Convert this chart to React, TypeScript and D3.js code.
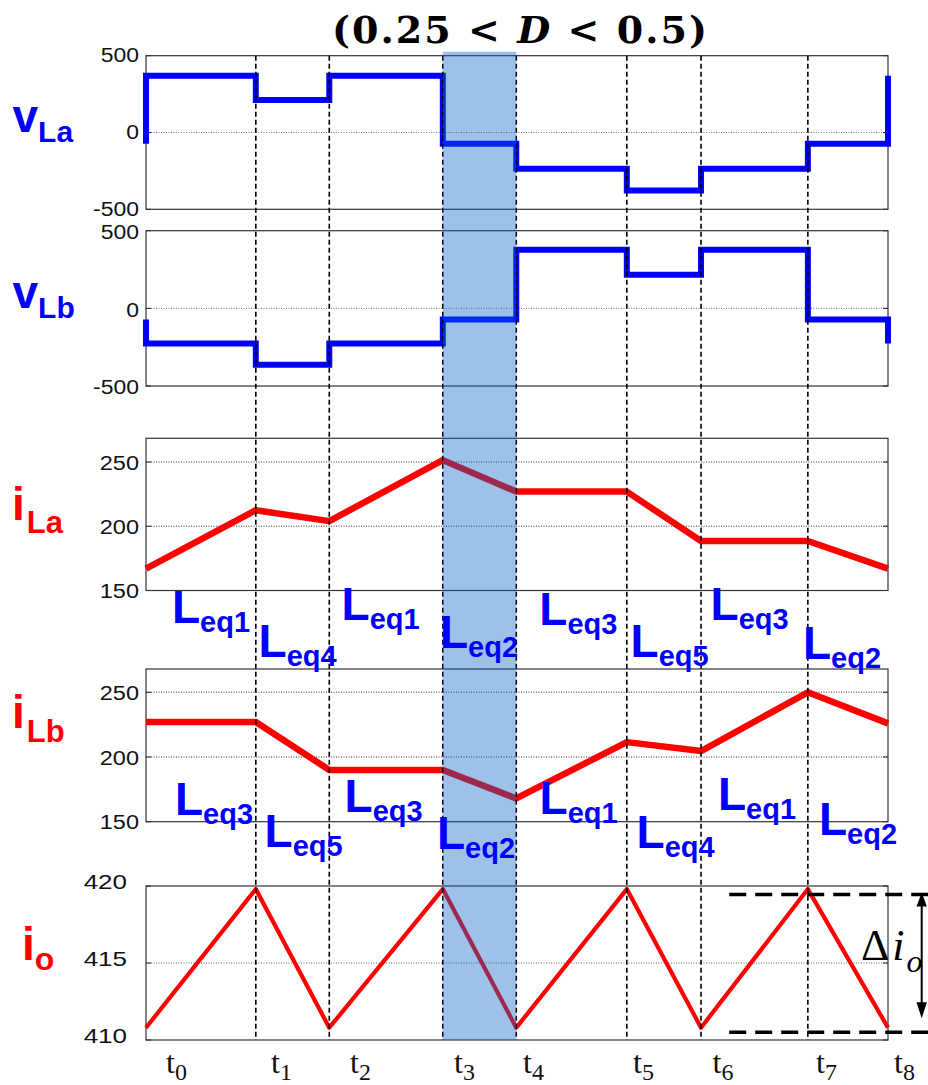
import React from "react";
import * as d3 from "d3";

// Switching instants within one period (normalised to T)
const TIME_KNOTS = [0, 0.148, 0.247, 0.4, 0.499, 0.648, 0.748, 0.892, 1.0];
const TIME_SUBS = ["0", "1", "2", "3", "4", "5", "6", "7", "8"];

// Inductor voltages: one level per interval t_k .. t_{k+1}
const VLA_LEVELS = [370, 212, 370, -74, -236, -377, -236, -74];
const VLB_LEVELS = [-227, -363, -227, -71, 378, 217, 378, -71];

// Currents sampled at the switching instants
const ILA_VALUES = [167, 212.5, 204, 251.5, 227, 227, 188.5, 188.5, 167];
const ILB_VALUES = [227, 227, 190, 190, 168, 211.5, 204.6, 250, 226];
const IO_VALUES = [410.8, 419.8, 410.8, 419.8, 410.8, 419.8, 410.8, 419.8, 410.8];

// Equivalent inductance active in each interval
const LEQ_A = ["1", "4", "1", "2", "3", "5", "3", "2"];
const LEQ_B = ["3", "5", "3", "2", "1", "4", "1", "2"];

const VOLT_TICKS = [500, 0, -500];
const CURR_TICKS = [250, 200, 150];
const IO_TICKS = [420, 415, 410];

// Ripple band drawn beside the output current
const RIPPLE_TOP = 419.45;
const RIPPLE_BOTTOM = 410.5;
const RIPPLE_START = 0.786;

const W = 928;
const H = 1085;
const BLUE = "#0000ff";
const RED = "#ff0000";
const SANS = "'Liberation Sans', Arial, sans-serif";
const SERIF = "'Liberation Serif', 'Times New Roman', serif";

const x = d3.scaleLinear().domain([0, 1]).range([146, 888]);

type Panel = {
  top: number;
  bottom: number;
  domain: [number, number];
  ticks: number[];
  grid: number[];
  labelRight: number;
  fs: number;
  sx: number;
  labelDy: number;
  gridColor: string;
  gridWidth: number;
};

const panels: Panel[] = [
  { top: 55.7, bottom: 209.3, domain: [-500, 500], ticks: VOLT_TICKS, grid: [0], labelRight: 139, fs: 20.5, sx: 1.12, labelDy: -1, gridColor: "#666", gridWidth: 0.9 },
  { top: 230.7, bottom: 386, domain: [-500, 500], ticks: VOLT_TICKS, grid: [0], labelRight: 139, fs: 20.5, sx: 1.12, labelDy: 1, gridColor: "#666", gridWidth: 0.9 },
  { top: 438.3, bottom: 590.5, domain: [150, 268.5], ticks: CURR_TICKS, grid: [200, 250], labelRight: 139, fs: 21, sx: 1.12, labelDy: 0, gridColor: "#777", gridWidth: 1.4 },
  { top: 669, bottom: 821.7, domain: [150, 268], ticks: CURR_TICKS, grid: [200, 250], labelRight: 139, fs: 21, sx: 1.12, labelDy: 0, gridColor: "#777", gridWidth: 1.4 },
  { top: 886, bottom: 1040, domain: [410, 420], ticks: IO_TICKS, grid: [415], labelRight: 127, fs: 20, sx: 1.3, labelDy: -4, gridColor: "#555", gridWidth: 0.9 },
];

const yScales = panels.map((p) => d3.scaleLinear().domain(p.domain).range([p.bottom, p.top]));

function stepPath(levels: number[], y: d3.ScaleLinear<number, number>) {
  const pts: [number, number][] = [[TIME_KNOTS[0], levels[levels.length - 1]]];
  levels.forEach((v, i) => pts.push([TIME_KNOTS[i], v]));
  pts.push([TIME_KNOTS[TIME_KNOTS.length - 1], levels[0]]);
  return d3
    .line<[number, number]>()
    .x((d) => x(d[0]))
    .y((d) => y(d[1]))
    .curve(d3.curveStepAfter)(pts) as string;
}

function rampPath(values: number[], y: d3.ScaleLinear<number, number>) {
  return d3
    .line<number>()
    .x((_, i) => x(TIME_KNOTS[i]))
    .y((d) => y(d))(values) as string;
}

// Text positions of the L_eq annotations (left of "L", baseline of "L")
const LEQ_A_POS: [number, number][] = [
  [172, 623], [258.6, 657], [341.6, 620], [440, 648], [539.3, 624.5], [630.6, 657], [710.6, 620], [803, 658.5],
];
const LEQ_B_POS: [number, number][] = [
  [175, 815], [264.6, 847], [344.6, 811.7], [437, 849], [539.6, 814], [636.6, 848], [718, 810], [819, 835],
];
const T_LABEL_X = [166, 271, 350, 454, 523, 633, 712.5, 816, 894];

function LeqLabel({ pos, sub }: { pos: [number, number]; sub: string }) {
  return (
    <text x={pos[0]} y={pos[1]} fill={BLUE} fontFamily={SANS} fontWeight="bold" fontSize={46}>
      L
      <tspan fontSize={29} dy={9}>
        {"eq" + sub}
      </tspan>
    </text>
  );
}

function SideLabel({ x0, y0, main, sub, color, mainSize, subSize, subDy, subDx = 0 }: any) {
  return (
    <text x={x0} y={y0} fill={color} fontFamily={SANS} fontWeight="bold" fontSize={mainSize}>
      {main}
      <tspan fontSize={subSize} dy={subDy} dx={subDx}>
        {sub}
      </tspan>
    </text>
  );
}

export default function App() {
  const [pA, , , , pE] = panels;
  const [yA, yB, yC, yD, yE] = yScales;
  const shadeX0 = x(TIME_KNOTS[3]);
  const shadeX1 = x(TIME_KNOTS[4]);

  return (
    <svg
      width={W}
      height={H}
      viewBox={`0 0 ${W} ${H}`}
      style={{ position: "absolute", left: 0, top: 0, background: "#fff" }}
    >
      <rect x={0} y={0} width={W} height={H} fill="#fff" />

      {/* title */}
      <text
        x={332}
        y={43}
        fontFamily="'DejaVu Serif', serif"
        fontWeight="bold"
        fontSize={38}
        textLength={375}
        lengthAdjust="spacing"
        fill="#000"
      >
        (0.25 {"<"} <tspan fontStyle="italic">D</tspan> {"<"} 0.5)
      </text>

      {/* panel frames, grids, ticks and tick labels */}
      {panels.map((p, pi) => {
        const y = yScales[pi];
        const xl = x(0);
        const xr = x(1);
        return (
          <g key={"frame" + pi}>
            {p.grid.map((g) => (
              <line
                key={"g" + g}
                x1={xl}
                x2={xr}
                y1={y(g)}
                y2={y(g)}
                stroke={p.gridColor}
                strokeWidth={p.gridWidth}
                strokeDasharray="1,1.5"
              />
            ))}
            {p.ticks.map((t) => (
              <g key={"t" + t}>
                <line x1={xl} x2={xl + 5} y1={y(t)} y2={y(t)} stroke="#222" strokeWidth={1} />
                <line x1={xr - 5} x2={xr} y1={y(t)} y2={y(t)} stroke="#222" strokeWidth={1} />
                <text
                  transform={`translate(${p.labelRight},${y(t) + p.labelDy + p.fs * 0.358}) scale(${p.sx},1)`}
                  textAnchor="end"
                  fontFamily={SANS}
                  fontSize={p.fs}
                  fill="#111"
                >
                  {t}
                </text>
              </g>
            ))}
            <rect x={xl} y={p.top} width={xr - xl} height={p.bottom - p.top} fill="none" stroke="#333" strokeWidth={1.2} />
          </g>
        );
      })}

      {/* waveforms */}
      <path d={stepPath(VLA_LEVELS, yA)} fill="none" stroke={BLUE} strokeWidth={6} strokeLinejoin="miter" />
      <path d={stepPath(VLB_LEVELS, yB)} fill="none" stroke={BLUE} strokeWidth={6} strokeLinejoin="miter" />
      <path d={rampPath(ILA_VALUES, yC)} fill="none" stroke={RED} strokeWidth={6.5} strokeLinejoin="round" />
      <path d={rampPath(ILB_VALUES, yD)} fill="none" stroke={RED} strokeWidth={6.5} strokeLinejoin="round" />
      <path d={rampPath(IO_VALUES, yE)} fill="none" stroke={RED} strokeWidth={4.2} strokeLinejoin="round" />

      {/* switching instants */}
      {TIME_KNOTS.slice(1, -1).map((t, i) => (
        <line
          key={"v" + i}
          x1={x(t)}
          x2={x(t)}
          y1={pA.top}
          y2={pE.bottom}
          stroke="#000"
          strokeWidth={1.6}
          strokeDasharray="5,3"
        />
      ))}

      {/* highlighted interval t3..t4 */}
      <rect
        x={shadeX0}
        y={pA.top - 4}
        width={shadeX1 - shadeX0}
        height={pE.bottom - pA.top + 4}
        fill="rgb(10,100,200)"
        fillOpacity={0.4}
      />

      {/* signal names */}
      <SideLabel x0={12.5} y0={132} main="v" sub="La" color={BLUE} mainSize={46} subSize={30} subDy={10} />
      <SideLabel x0={12.5} y0={308} main="v" sub="Lb" color={BLUE} mainSize={46} subSize={30} subDy={10} />
      <SideLabel x0={12} y0={520} main="i" sub="La" color={RED} mainSize={46} subSize={31} subDy={13} subDx={2} />
      <SideLabel x0={12} y0={728} main="i" sub="Lb" color={RED} mainSize={46} subSize={31} subDy={14} subDx={2} />
      <SideLabel x0={22} y0={960} main="i" sub="o" color={RED} mainSize={46} subSize={32} subDy={10} />

      {/* equivalent inductances */}
      {LEQ_A.map((s, i) => (
        <LeqLabel key={"a" + i} pos={LEQ_A_POS[i]} sub={s} />
      ))}
      {LEQ_B.map((s, i) => (
        <LeqLabel key={"b" + i} pos={LEQ_B_POS[i]} sub={s} />
      ))}

      {/* time instants */}
      {TIME_SUBS.map((s, i) => (
        <text key={"tl" + i} x={T_LABEL_X[i]} y={1073} fontFamily={SERIF} fontSize={32} fill="#111">
          t
          <tspan fontSize={24} dy={7}>
            {s}
          </tspan>
        </text>
      ))}

      {/* output ripple annotation */}
      {[RIPPLE_TOP, RIPPLE_BOTTOM].map((v, i) => (
        <line
          key={"r" + i}
          x1={x(RIPPLE_START)}
          x2={W}
          y1={yE(v)}
          y2={yE(v)}
          stroke="#000"
          strokeWidth={3.5}
          strokeDasharray="17,9"
        />
      ))}
      <g>
        <line x1={921.7} x2={921.7} y1={yE(RIPPLE_TOP) + 10} y2={yE(RIPPLE_BOTTOM) - 28} stroke="#000" strokeWidth={2} />
        <polygon
          points={`921.7,${yE(RIPPLE_TOP) - 2} 916.5,${yE(RIPPLE_TOP) + 12} 926.9,${yE(RIPPLE_TOP) + 12}`}
          fill="#000"
        />
        <polygon
          points={`921.7,${yE(RIPPLE_BOTTOM) - 14} 916.5,${yE(RIPPLE_BOTTOM) - 30} 926.9,${yE(RIPPLE_BOTTOM) - 30}`}
          fill="#000"
        />
      </g>
      <text x={861} y={960} fontFamily={SERIF} fontSize={44} fill="#000">
        Δ
        <tspan fontStyle="italic" dx={3}>
          i
        </tspan>
        <tspan fontStyle="italic" fontSize={32} dy={12} dx={2}>
          o
        </tspan>
      </text>
    </svg>
  );
}
